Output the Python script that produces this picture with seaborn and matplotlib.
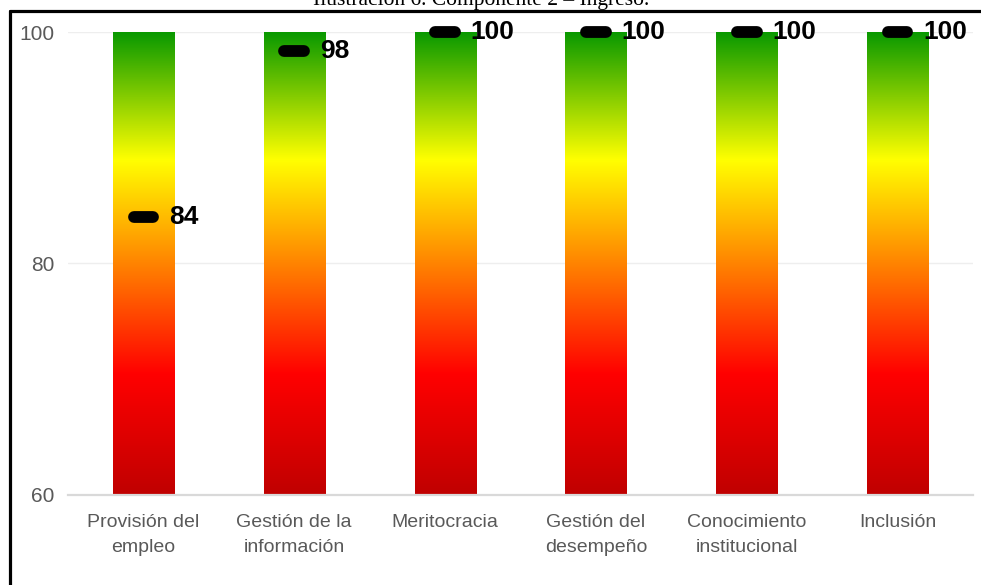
import numpy as np
import pandas as pd
import matplotlib
matplotlib.use('Agg')
import matplotlib.pyplot as plt
import seaborn as sns
from matplotlib.colors import LinearSegmentedColormap
from matplotlib.lines import Line2D
from matplotlib import font_manager

# data
categories = ['Provisión del\nempleo', 'Gestión de la\ninformación', 'Meritocracia',
              'Gestión del\ndesempeño', 'Conocimiento\ninstitucional', 'Inclusión']
scores = [84, 98.4, 100, 100, 100, 100]
scale_max = [100, 100, 100, 100, 100, 100]
yticks = [60, 80, 100]
title = 'Ilustración 6. Componente 2 – Ingreso.'

sns.set_theme(style='white')
names = {f.name for f in font_manager.fontManager.ttflist}
narrow = 'Liberation Sans Narrow' if 'Liberation Sans Narrow' in names else 'Liberation Sans'
plt.rcParams['font.family'] = [narrow, 'DejaVu Sans']

df = pd.DataFrame({'componente': categories, 'max': scale_max, 'score': scores})

fig = plt.figure(figsize=(9.81, 5.85), dpi=100)
ax = fig.add_axes([68/981, 1 - 495/585, (973 - 68)/981, (495 - 32)/585])

sns.barplot(data=df, x='componente', y='max', width=0.405, color='white',
            edgecolor='none', ax=ax, zorder=1)

# traffic-light gradient inside every bar
cmap = LinearSegmentedColormap.from_list(
    'semaforo', [(0, '#c00000'), (0.26, '#ff0000'), (0.725, '#ffff00'), (1, '#0a9900')])
grad = np.linspace(0, 1, 256).reshape(-1, 1)
for p in ax.patches:
    im = ax.imshow(grad, extent=(-0.5, len(categories) - 0.5, yticks[0], yticks[-1]),
                   origin='lower', aspect='auto', cmap=cmap, zorder=2)
    im.set_clip_path(p)

ax.set_xlim(-0.5, len(categories) - 0.5)
ax.set_ylim(yticks[0], yticks[-1])

# score markers + labels
for i, v in enumerate(df['score']):
    ax.plot([i - 0.065, i + 0.065], [v, v], color='black', lw=8.5,
            solid_capstyle='round', zorder=4, clip_on=False)
    ax.text(i + 0.17, v, f'{v:.0f}', ha='left', va='center', fontsize=19,
            fontweight='bold', color='black', zorder=5, clip_on=False)

ax.set_yticks(yticks)
ax.yaxis.grid(True, color='#eeeeee', lw=1)
ax.set_axisbelow(True)
for s in ['top', 'right', 'left']:
    ax.spines[s].set_visible(False)
ax.spines['bottom'].set_color('#d9d9d9')
ax.spines['bottom'].set_linewidth(1.6)
ax.tick_params(axis='y', length=0, pad=10, labelsize=15, labelcolor='#595959')
ax.tick_params(axis='x', length=0, pad=14, labelsize=14, labelcolor='#595959')
for t in ax.get_xticklabels():
    t.set_linespacing(1.6)
ax.set_xlabel('')
ax.set_ylabel('')

# frame of the document and the caption cut at the top
fig.add_artist(Line2D([9.5/981, 1], [1 - 10.5/585] * 2, transform=fig.transFigure,
                      color='black', lw=2.3))
fig.add_artist(Line2D([9.5/981] * 2, [0, 1 - 10.5/585], transform=fig.transFigure,
                      color='black', lw=2.3))
fig.text(0.49, 1 - 5/585, title, ha='center', va='baseline',
         family='Liberation Serif', fontsize=15.5, color='black')

fig.savefig('out.png', dpi=100)
